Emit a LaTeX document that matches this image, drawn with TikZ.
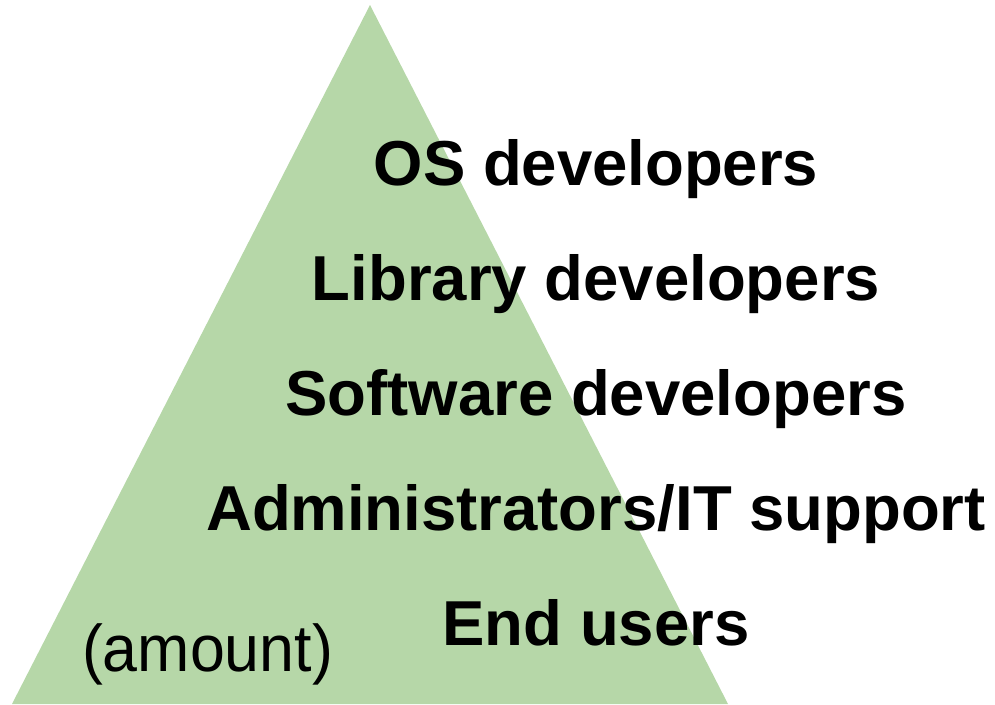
\documentclass[tikz,border=0pt]{standalone}
\usepackage{fontspec}
\setmainfont{Liberation Sans}
\definecolor{pyrgreen}{HTML}{B6D7A8}
\begin{document}
\begin{tikzpicture}[x=1pt,y=-1pt,
  levellabel/.style={anchor=base, inner sep=0pt, font=\fontsize{63.5}{70}\selectfont\bfseries},
  amountlabel/.style={anchor=base, inner sep=0pt, font=\fontsize{66}{72}\selectfont}]
\useasboundingbox (0,0) rectangle (995,704);
\fill[pyrgreen] (370,5) -- (728,704) -- (12,704) -- cycle;
\node[levellabel] (os) at (596,185) {OS developers};
\node[levellabel] (lib) at (596,300) {Library developers};
\node[levellabel] (sw) at (596,415) {Software developers};
\node[levellabel] (adm) at (596,530) {Administrators/IT support};
\node[levellabel] (end) at (596,645) {End users};
\node[amountlabel, xscale=0.95] (amt) at (207.5,671) {(amount)};
\end{tikzpicture}
\end{document}
